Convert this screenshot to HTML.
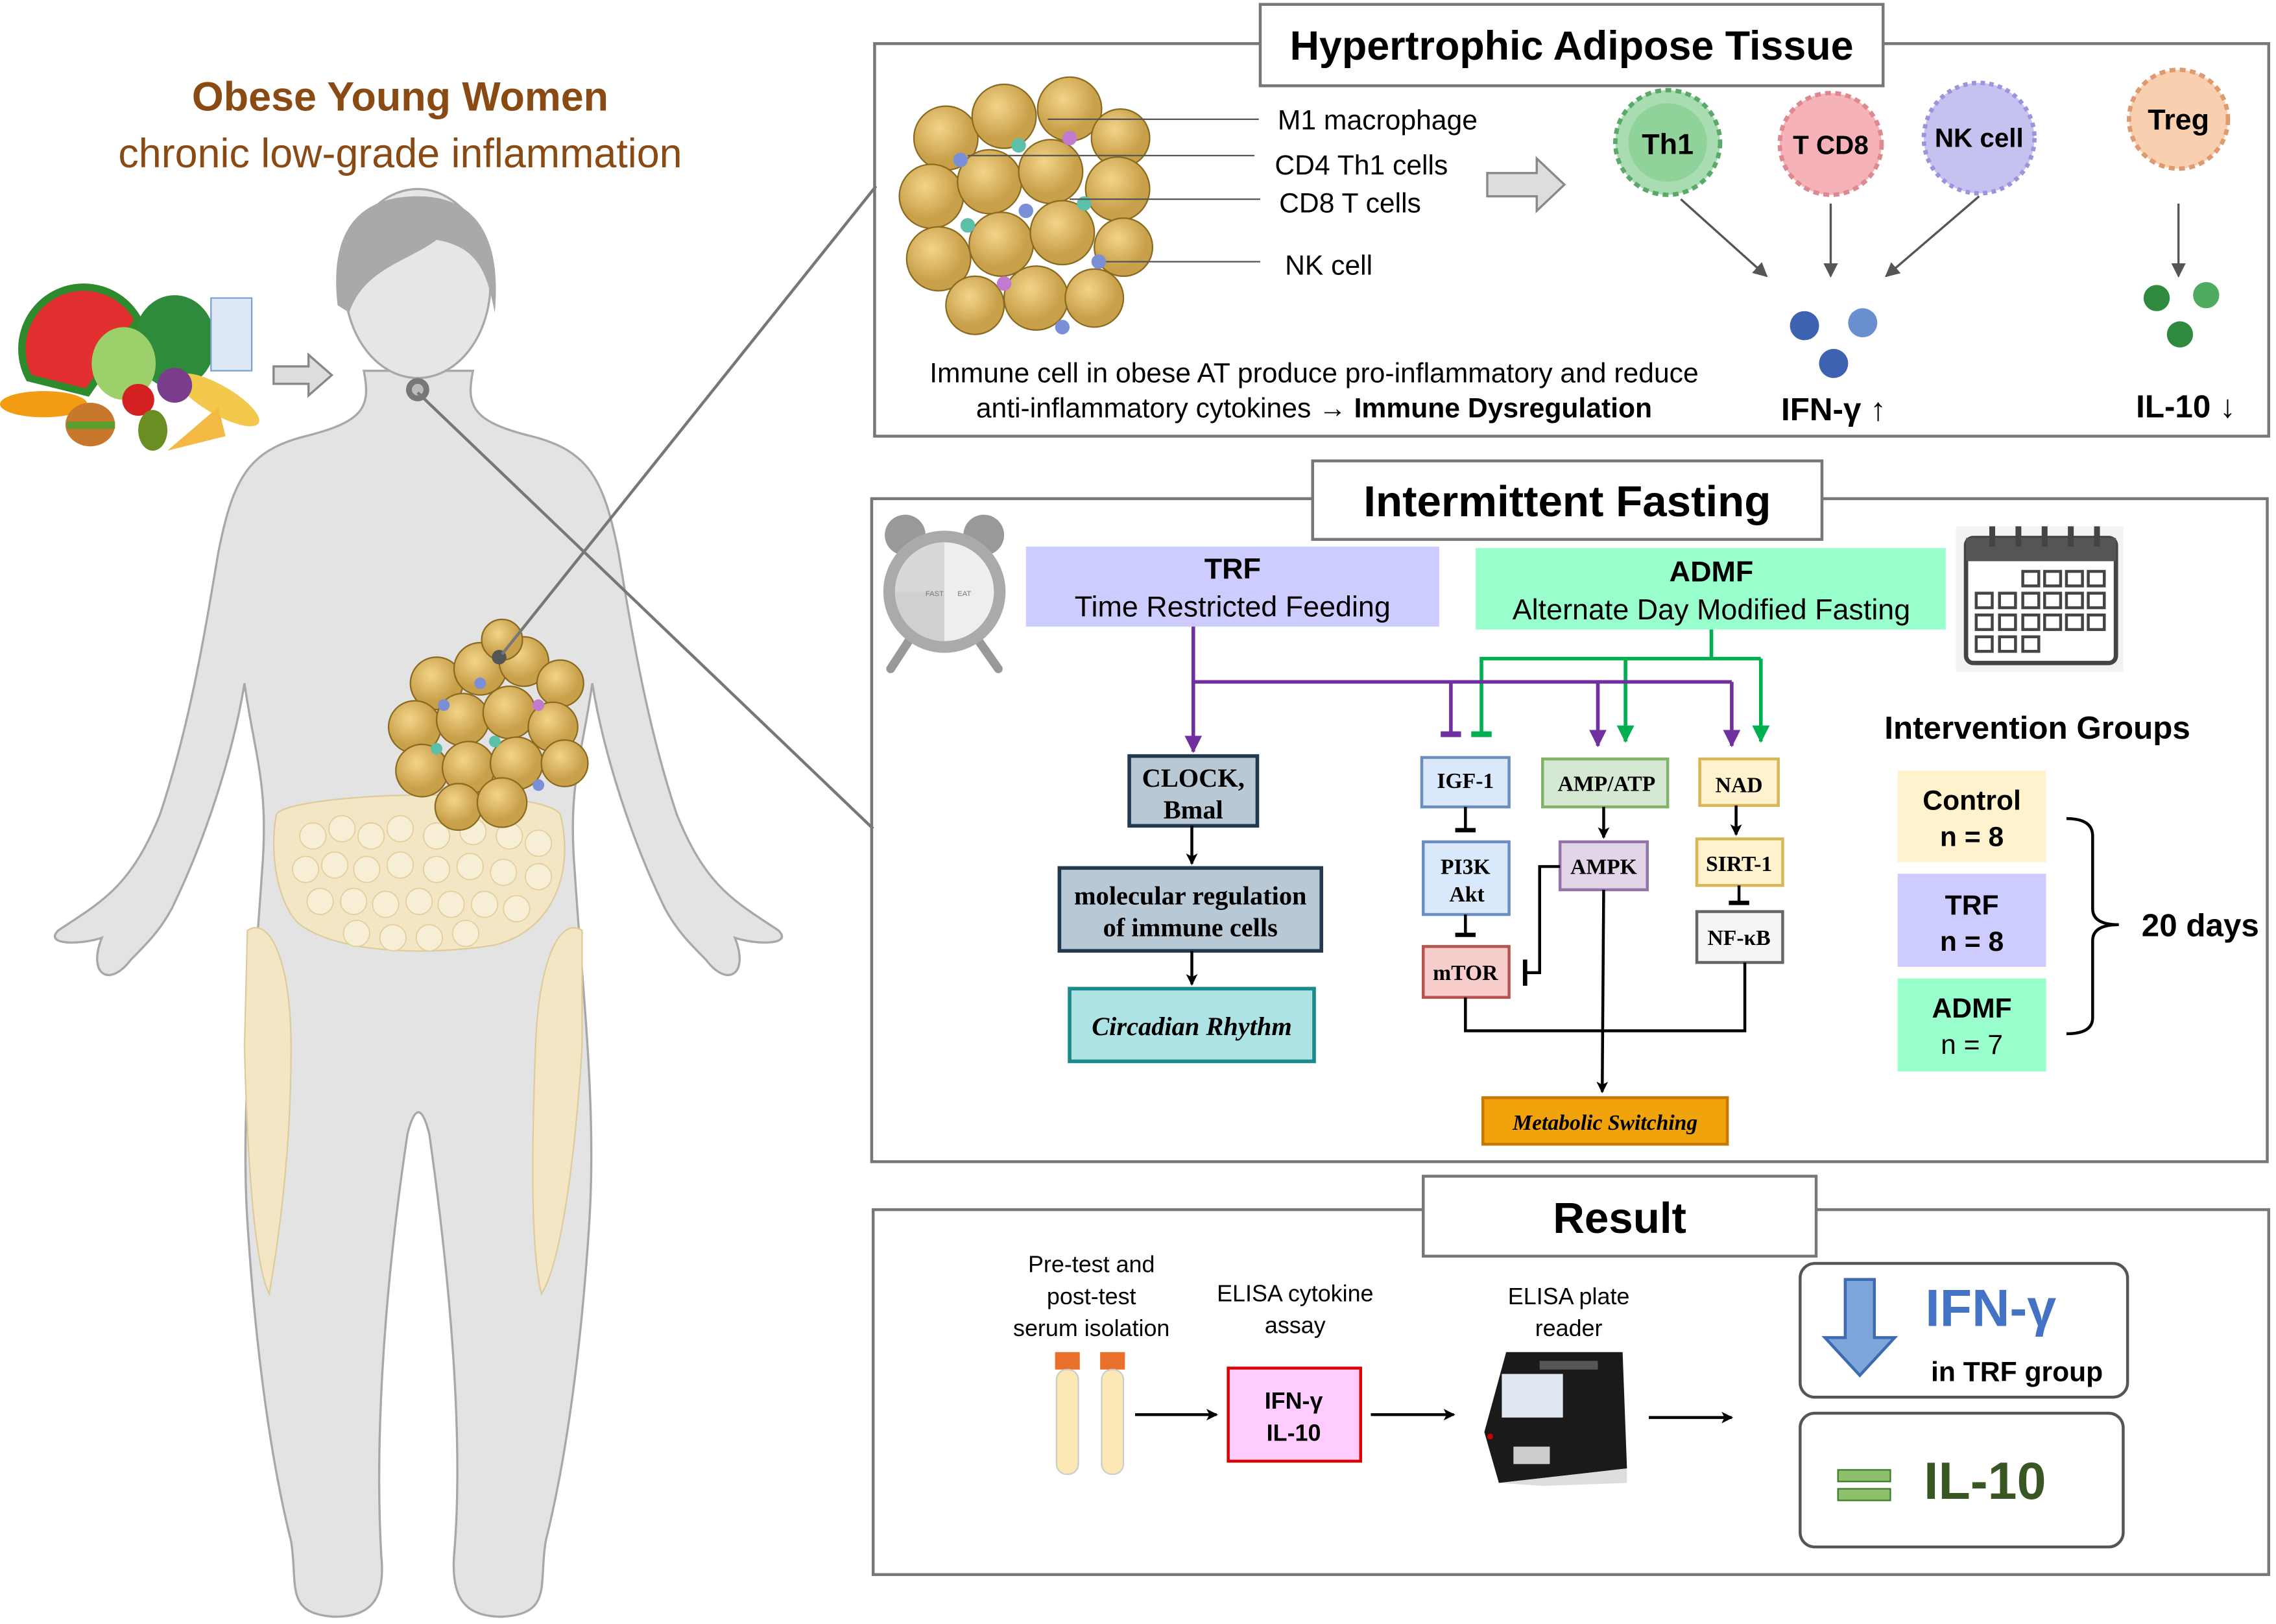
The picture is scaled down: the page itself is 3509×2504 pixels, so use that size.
<!DOCTYPE html>
<html><head><meta charset="utf-8"><style>
html,body{margin:0;padding:0;background:#fff;}
svg{display:block;}
.s{font-family:"Liberation Sans",sans-serif;}
.r{font-family:"Liberation Serif",serif;font-weight:bold;}
</style></head><body>
<svg width="3509" height="2504" viewBox="0 0 1564 1117" preserveAspectRatio="none" xmlns="http://www.w3.org/2000/svg">
<defs>
<marker id="ak" markerWidth="8" markerHeight="8" refX="7" refY="4" orient="auto" markerUnits="userSpaceOnUse"><path d="M0,0 L8,4 L0,8 L2,4z" fill="#000"/></marker>
<marker id="ap" markerWidth="12" markerHeight="12" refX="11" refY="6" orient="auto" markerUnits="userSpaceOnUse"><path d="M0,0 L12,6 L0,12z" fill="#7030a0"/></marker>
<marker id="ag" markerWidth="12" markerHeight="12" refX="11" refY="6" orient="auto" markerUnits="userSpaceOnUse"><path d="M0,0 L12,6 L0,12z" fill="#00b050"/></marker>
<marker id="agr" markerWidth="10" markerHeight="10" refX="9" refY="5" orient="auto" markerUnits="userSpaceOnUse"><path d="M0,0 L10,5 L0,10z" fill="#555"/></marker>
<radialGradient id="fat" cx="40%" cy="35%"><stop offset="0" stop-color="#f2d58a"/><stop offset="1" stop-color="#c9a04a"/></radialGradient>
</defs>
<rect width="1564" height="1117" fill="#fff"/>

<!-- Left title -->
<text x="275" y="76" text-anchor="middle" class="s" font-size="28" font-weight="bold" fill="#8a4a14">Obese Young Women</text>
<text x="275" y="115" text-anchor="middle" class="s" font-size="28" fill="#8a4a14">chronic low-grade inflammation</text>

<!-- Body silhouette -->
<path d="M250,255 C255,280 250,290 210,300 C170,310 160,330 150,380 C140,440 130,500 110,560 C90,610 70,620 40,640 C30,650 55,650 70,645 C60,670 75,680 90,660 C100,650 110,640 118,625 C140,580 160,520 168,470 C175,520 185,540 180,600 C175,680 165,760 170,840 C175,920 185,1000 200,1060 C205,1090 195,1110 230,1112 C255,1112 265,1100 262,1070 C258,1000 262,900 280,780 C285,760 290,760 295,780 C312,900 318,1000 312,1070 C310,1100 320,1112 345,1112 C380,1110 370,1090 375,1060 C390,1000 400,920 405,840 C410,760 400,680 395,600 C390,540 400,520 407,470 C415,520 435,580 457,625 C465,640 475,650 485,660 C500,680 515,670 505,645 C520,650 545,650 535,640 C505,620 485,610 465,560 C445,500 435,440 425,380 C415,330 405,310 365,300 C325,290 320,280 325,255 Z" fill="#e3e3e3" stroke="#a8a8a8" stroke-width="1.5"/>
<ellipse cx="287" cy="195" rx="50" ry="65" fill="#e6e6e6" stroke="#a8a8a8" stroke-width="1.5"/>
<path d="M232,210 C225,150 255,135 287,135 C325,135 345,160 340,215 C335,190 330,170 300,165 C280,180 250,185 240,215 Z" fill="#a9a9a9"/>
<circle cx="287" cy="268" r="8" fill="#777"/><circle cx="287" cy="268" r="4" fill="#bbb"/>
<!-- belly fat -->
<path d="M190,560 C200,545 370,540 385,560 C395,600 380,640 340,650 C290,658 230,655 205,635 C190,620 185,585 190,560Z" fill="#f3e6c4" stroke="#dccb9c"/>
<g fill="#f7eed6" stroke="#e2cf9c" stroke-width="0.8">
<circle cx="215" cy="575" r="9"/><circle cx="235" cy="570" r="9"/><circle cx="255" cy="575" r="9"/><circle cx="275" cy="570" r="9"/><circle cx="300" cy="575" r="9"/><circle cx="325" cy="572" r="9"/><circle cx="350" cy="575" r="9"/><circle cx="370" cy="580" r="9"/>
<circle cx="210" cy="598" r="9"/><circle cx="230" cy="595" r="9"/><circle cx="252" cy="598" r="9"/><circle cx="275" cy="595" r="9"/><circle cx="300" cy="598" r="9"/><circle cx="323" cy="596" r="9"/><circle cx="346" cy="600" r="9"/><circle cx="370" cy="603" r="9"/>
<circle cx="220" cy="620" r="9"/><circle cx="243" cy="620" r="9"/><circle cx="265" cy="622" r="9"/><circle cx="288" cy="620" r="9"/><circle cx="310" cy="622" r="9"/><circle cx="333" cy="622" r="9"/><circle cx="355" cy="625" r="9"/>
<circle cx="245" cy="642" r="9"/><circle cx="270" cy="645" r="9"/><circle cx="295" cy="645" r="9"/><circle cx="320" cy="642" r="9"/>
</g>
<path d="M170,640 C185,630 200,660 200,720 C200,800 190,860 185,890 C175,870 170,800 168,720Z" fill="#f3e6c4" stroke="#dccb9c"/>
<path d="M400,640 C385,630 370,660 368,720 C365,800 365,860 372,890 C385,870 395,800 400,720Z" fill="#f3e6c4" stroke="#dccb9c"/>
<!-- adipose cluster on body -->
<g stroke="#8a6a20" stroke-width="1" fill="url(#fat)">
<circle cx="300" cy="470" r="18"/><circle cx="330" cy="460" r="18"/><circle cx="360" cy="455" r="17"/><circle cx="385" cy="470" r="16"/><circle cx="345" cy="440" r="14"/>
<circle cx="285" cy="500" r="18"/><circle cx="318" cy="495" r="18"/><circle cx="350" cy="490" r="18"/><circle cx="380" cy="500" r="17"/>
<circle cx="290" cy="530" r="18"/><circle cx="322" cy="528" r="18"/><circle cx="355" cy="525" r="18"/><circle cx="388" cy="525" r="16"/>
<circle cx="315" cy="555" r="16"/><circle cx="345" cy="552" r="17"/>
</g>
<g><circle cx="305" cy="485" r="4" fill="#7b8fd6"/><circle cx="340" cy="510" r="4" fill="#5cbfa8"/><circle cx="370" cy="485" r="4" fill="#c07ad0"/><circle cx="330" cy="470" r="4" fill="#7b8fd6"/><circle cx="300" cy="515" r="4" fill="#5cbfa8"/><circle cx="370" cy="540" r="4" fill="#7b8fd6"/></g>
<circle cx="343" cy="452" r="5" fill="#555"/>

<!-- food -->
<path d="M20,260 A40,40 0 0 1 95,220 L60,270Z" fill="#e23030" stroke="#2d8a2d" stroke-width="5"/>
<ellipse cx="120" cy="235" rx="28" ry="32" fill="#2e8b3c"/>
<ellipse cx="85" cy="250" rx="22" ry="25" fill="#9bd06b"/>
<rect x="145" y="205" width="28" height="50" fill="#dfe9f6" stroke="#7aa0d0"/>
<ellipse cx="150" cy="275" rx="32" ry="10" fill="#f2c94c" transform="rotate(30 150 275)"/>
<circle cx="120" cy="265" r="12" fill="#7a3d8c"/>
<circle cx="95" cy="275" r="11" fill="#d42020"/>
<ellipse cx="30" cy="278" rx="30" ry="9" fill="#f39c12"/>
<ellipse cx="62" cy="292" rx="17" ry="15" fill="#c8782c"/><rect x="46" y="290" width="33" height="5" fill="#5a9e2f"/>
<ellipse cx="105" cy="296" rx="10" ry="14" fill="#6b8e23"/>
<path d="M115,310 L150,280 L155,300Z" fill="#f4b942"/>

<!-- arrows left -->
<path d="M188,252 L212,252 L212,244 L228,258 L212,272 L212,264 L188,264Z" fill="#ddd" stroke="#888" stroke-width="1.5"/>
<line x1="345" y1="450" x2="602" y2="128" stroke="#777" stroke-width="2"/>
<line x1="287" y1="270" x2="600" y2="570" stroke="#777" stroke-width="2"/>

<!-- TOP BOX -->
<rect x="601" y="30" width="958" height="270" fill="none" stroke="#777" stroke-width="2"/>
<rect x="866" y="3" width="428" height="56" fill="#fff" stroke="#777" stroke-width="2"/>
<text x="1080" y="41" text-anchor="middle" class="s" font-size="28" font-weight="bold">Hypertrophic Adipose Tissue</text>
<g stroke="#8a6a20" stroke-width="1" fill="url(#fat)">
<circle cx="650" cy="95" r="22"/><circle cx="690" cy="80" r="22"/><circle cx="735" cy="75" r="22"/><circle cx="770" cy="95" r="20"/>
<circle cx="640" cy="135" r="22"/><circle cx="680" cy="125" r="22"/><circle cx="722" cy="118" r="22"/><circle cx="768" cy="130" r="22"/>
<circle cx="645" cy="178" r="22"/><circle cx="688" cy="168" r="22"/><circle cx="730" cy="160" r="22"/><circle cx="772" cy="170" r="20"/>
<circle cx="670" cy="210" r="20"/><circle cx="712" cy="205" r="22"/><circle cx="752" cy="205" r="20"/>
</g>
<g><circle cx="660" cy="110" r="5" fill="#7b8fd6"/><circle cx="700" cy="100" r="5" fill="#5cbfa8"/><circle cx="735" cy="95" r="5" fill="#c07ad0"/><circle cx="705" cy="145" r="5" fill="#7b8fd6"/><circle cx="745" cy="140" r="5" fill="#5cbfa8"/><circle cx="665" cy="155" r="5" fill="#5cbfa8"/><circle cx="755" cy="180" r="5" fill="#7b8fd6"/><circle cx="690" cy="195" r="5" fill="#c07ad0"/><circle cx="730" cy="225" r="5" fill="#7b8fd6"/></g>
<g stroke="#555" stroke-width="1"><line x1="720" y1="82" x2="865" y2="82"/><line x1="665" y1="107" x2="862" y2="107"/><line x1="735" y1="137" x2="866" y2="137"/><line x1="760" y1="180" x2="866" y2="180"/></g>
<g class="s" font-size="19"><text x="878" y="89">M1 macrophage</text><text x="876" y="120">CD4 Th1 cells</text><text x="879" y="146">CD8 T cells</text><text x="883" y="189">NK cell</text></g>
<path d="M1022,119 L1056,119 L1056,109 L1075,127 L1056,145 L1056,135 L1022,135Z" fill="#ddd" stroke="#888" stroke-width="1.5"/>
<circle cx="1146" cy="98" r="36" fill="#a9dcb0" stroke="#5aa86a" stroke-width="3" stroke-dasharray="4 3"/><circle cx="1146" cy="98" r="27" fill="#8fd29a"/>
<text x="1146" y="106" text-anchor="middle" class="s" font-size="20" font-weight="bold">Th1</text>
<circle cx="1258" cy="99" r="35" fill="#f5b3b9" stroke="#e08890" stroke-width="3" stroke-dasharray="4 3"/>
<text x="1258" y="106" text-anchor="middle" class="s" font-size="18" font-weight="bold">T CD8</text>
<circle cx="1360" cy="95" r="38" fill="#c5c2ef" stroke="#9a94dd" stroke-width="3" stroke-dasharray="3 3"/>
<text x="1360" y="101" text-anchor="middle" class="s" font-size="18" font-weight="bold">NK cell</text>
<circle cx="1497" cy="82" r="34" fill="#f8d0b0" stroke="#e09a70" stroke-width="3" stroke-dasharray="4 3"/>
<text x="1497" y="89" text-anchor="middle" class="s" font-size="20" font-weight="bold">Treg</text>
<g stroke="#555" stroke-width="1.5" marker-end="url(#agr)"><line x1="1155" y1="137" x2="1214" y2="190"/><line x1="1258" y1="140" x2="1258" y2="190"/><line x1="1360" y1="135" x2="1296" y2="190"/><line x1="1497" y1="140" x2="1497" y2="190"/></g>
<circle cx="1240" cy="224" r="10" fill="#3d62b0"/><circle cx="1280" cy="222" r="10" fill="#6a8fd0"/><circle cx="1260" cy="250" r="10" fill="#3d62b0"/>
<circle cx="1482" cy="205" r="9" fill="#2e8a3e"/><circle cx="1516" cy="203" r="9" fill="#4eaa5e"/><circle cx="1498" cy="230" r="9" fill="#2e8a3e"/>
<text x="903" y="263" text-anchor="middle" class="s" font-size="19">Immune cell in obese AT produce pro-inflammatory and reduce</text>
<text x="903" y="287" text-anchor="middle" class="s" font-size="19">anti-inflammatory cytokines → <tspan font-weight="bold">Immune Dysregulation</tspan></text>
<text x="1260" y="289" text-anchor="middle" class="s" font-size="22" font-weight="bold">IFN-γ ↑</text>
<text x="1502" y="287" text-anchor="middle" class="s" font-size="22" font-weight="bold">IL-10 ↓</text>

<!-- MIDDLE BOX -->
<rect x="599" y="343" width="959" height="456" fill="none" stroke="#777" stroke-width="2"/>
<rect x="902" y="317" width="350" height="54" fill="#fff" stroke="#777" stroke-width="2"/>
<text x="1077" y="355" text-anchor="middle" class="s" font-size="30" font-weight="bold">Intermittent Fasting</text>
<!-- clock -->
<circle cx="622" cy="368" r="14" fill="#999"/><circle cx="676" cy="368" r="14" fill="#999"/>
<line x1="625" y1="440" x2="612" y2="460" stroke="#999" stroke-width="6" stroke-linecap="round"/><line x1="672" y1="440" x2="686" y2="460" stroke="#999" stroke-width="6" stroke-linecap="round"/>
<circle cx="649" cy="407" r="42" fill="#aaa"/><circle cx="649" cy="407" r="34" fill="#eee"/><path d="M649,407 L649,373 A34,34 0 0 0 615,407Z" fill="#d8d8d8"/><path d="M649,407 L615,407 A34,34 0 0 0 649,441Z" fill="#d0d0d0"/>
<text x="636" y="410" font-size="5" fill="#777" class="s">FAST</text><text x="658" y="410" font-size="5" fill="#777" class="s">EAT</text>
<!-- calendar -->
<rect x="1344" y="362" width="115" height="100" fill="#f3f3f3"/>
<rect x="1351" y="370" width="103" height="86" rx="5" fill="#fff" stroke="#444" stroke-width="3"/>
<rect x="1351" y="370" width="103" height="16" fill="#555"/>
<g fill="#444"><rect x="1367" y="362" width="4" height="14"/><rect x="1385" y="362" width="4" height="14"/><rect x="1403" y="362" width="4" height="14"/><rect x="1421" y="362" width="4" height="14"/><rect x="1439" y="362" width="4" height="14"/></g>
<g fill="none" stroke="#444" stroke-width="2">
<rect x="1390" y="393" width="11" height="10"/><rect x="1405" y="393" width="11" height="10"/><rect x="1420" y="393" width="11" height="10"/><rect x="1435" y="393" width="11" height="10"/>
<rect x="1358" y="408" width="11" height="10"/><rect x="1374" y="408" width="11" height="10"/><rect x="1390" y="408" width="11" height="10"/><rect x="1405" y="408" width="11" height="10"/><rect x="1420" y="408" width="11" height="10"/><rect x="1435" y="408" width="11" height="10"/>
<rect x="1358" y="423" width="11" height="10"/><rect x="1374" y="423" width="11" height="10"/><rect x="1390" y="423" width="11" height="10"/><rect x="1405" y="423" width="11" height="10"/><rect x="1420" y="423" width="11" height="10"/><rect x="1435" y="423" width="11" height="10"/>
<rect x="1358" y="438" width="11" height="10"/><rect x="1374" y="438" width="11" height="10"/><rect x="1390" y="438" width="11" height="10"/></g>
<rect x="705" y="376" width="284" height="55" fill="#ccccff"/>
<text x="847" y="398" text-anchor="middle" class="s" font-size="20" font-weight="bold">TRF</text>
<text x="847" y="424" text-anchor="middle" class="s" font-size="20">Time Restricted Feeding</text>
<rect x="1014" y="377" width="323" height="56" fill="#99ffcc"/>
<text x="1176" y="400" text-anchor="middle" class="s" font-size="20" font-weight="bold">ADMF</text>
<text x="1176" y="426" text-anchor="middle" class="s" font-size="20">Alternate Day Modified Fasting</text>
<!-- connectors -->
<g fill="none" stroke="#00b050" stroke-width="2.5">
<polyline points="1176,433 1176,453"/><polyline points="1018,505 1018,453 1210,453"/>
<line x1="1117" y1="453" x2="1117" y2="510" marker-end="url(#ag)"/><line x1="1210" y1="453" x2="1210" y2="510" marker-end="url(#ag)"/>
<line x1="1011" y1="505" x2="1025" y2="505" stroke-width="4"/></g>
<g fill="none" stroke="#7030a0" stroke-width="2.5">
<polyline points="820,431 820,469 1190,469"/>
<line x1="820" y1="469" x2="820" y2="517" marker-end="url(#ap)"/>
<line x1="997" y1="469" x2="997" y2="505"/><line x1="990" y1="505" x2="1004" y2="505" stroke-width="4"/>
<line x1="1098" y1="469" x2="1098" y2="513" marker-end="url(#ap)"/><line x1="1190" y1="469" x2="1190" y2="513" marker-end="url(#ap)"/></g>
<!-- boxes -->
<rect x="776" y="520" width="88" height="48" fill="#b8c8d4" stroke="#223a50" stroke-width="2.5"/>
<text x="820" y="541" text-anchor="middle" class="r" font-size="18">CLOCK,</text><text x="820" y="563" text-anchor="middle" class="r" font-size="18">Bmal</text>
<rect x="728" y="597" width="180" height="57" fill="#b8c8d4" stroke="#223a50" stroke-width="2.5"/>
<text x="818" y="622" text-anchor="middle" class="r" font-size="18">molecular regulation</text><text x="818" y="644" text-anchor="middle" class="r" font-size="18">of immune cells</text>
<rect x="735" y="680" width="168" height="50" fill="#ade3e5" stroke="#1a8a8a" stroke-width="2.5"/>
<text x="819" y="712" text-anchor="middle" class="r" font-size="18" font-style="italic">Circadian Rhythm</text>
<rect x="977" y="521" width="60" height="34" fill="#dae8fc" stroke="#6c8ebf" stroke-width="2"/>
<text x="1007" y="542" text-anchor="middle" class="r" font-size="15">IGF-1</text>
<rect x="978" y="579" width="59" height="50" fill="#dae8fc" stroke="#6c8ebf" stroke-width="2"/>
<text x="1007" y="601" text-anchor="middle" class="r" font-size="15">PI3K</text><text x="1008" y="620" text-anchor="middle" class="r" font-size="15">Akt</text>
<rect x="978" y="651" width="59" height="35" fill="#f8cecc" stroke="#b85450" stroke-width="2"/>
<text x="1007" y="674" text-anchor="middle" class="r" font-size="15">mTOR</text>
<rect x="1060" y="522" width="86" height="33" fill="#d5e8d4" stroke="#82b366" stroke-width="2"/>
<text x="1104" y="544" text-anchor="middle" class="r" font-size="15">AMP/ATP</text>
<rect x="1072" y="579" width="60" height="33" fill="#e1d5e7" stroke="#9673a6" stroke-width="2"/>
<text x="1102" y="601" text-anchor="middle" class="r" font-size="15">AMPK</text>
<rect x="1168" y="522" width="54" height="32" fill="#fff2cc" stroke="#d6b656" stroke-width="2"/>
<text x="1195" y="545" text-anchor="middle" class="r" font-size="15">NAD</text>
<rect x="1166" y="577" width="59" height="32" fill="#fff2cc" stroke="#d6b656" stroke-width="2"/>
<text x="1195" y="599" text-anchor="middle" class="r" font-size="15">SIRT-1</text>
<rect x="1166" y="627" width="59" height="35" fill="#f5f5f5" stroke="#666" stroke-width="2"/>
<text x="1195" y="650" text-anchor="middle" class="r" font-size="15">NF-κB</text>
<rect x="1019" y="755" width="168" height="32" fill="#f0a30a" stroke="#c77800" stroke-width="2"/>
<text x="1103" y="777" text-anchor="middle" class="r" font-size="15" font-style="italic">Metabolic Switching</text>
<g fill="none" stroke="#000" stroke-width="2">
<line x1="819" y1="568" x2="819" y2="594" marker-end="url(#ak)"/>
<line x1="819" y1="654" x2="819" y2="677" marker-end="url(#ak)"/>
<line x1="1007" y1="555" x2="1007" y2="571"/><line x1="1000" y1="571" x2="1014" y2="571" stroke-width="3"/>
<line x1="1007" y1="629" x2="1007" y2="643"/><line x1="1000" y1="643" x2="1014" y2="643" stroke-width="3"/>
<line x1="1102" y1="555" x2="1102" y2="576" marker-end="url(#ak)"/>
<line x1="1193" y1="554" x2="1193" y2="574" marker-end="url(#ak)"/>
<line x1="1195" y1="609" x2="1195" y2="621"/><line x1="1188" y1="621" x2="1202" y2="621" stroke-width="3"/>
<polyline points="1072,596 1058,596 1058,669 1048,669"/><line x1="1048" y1="660" x2="1048" y2="678" stroke-width="3"/>
<polyline points="1007,686 1007,709 1199,709 1199,662"/>
<line x1="1102" y1="612" x2="1101" y2="751" marker-end="url(#ak)"/>
</g>
<text x="1400" y="508" text-anchor="middle" class="s" font-size="22" font-weight="bold">Intervention Groups</text>
<rect x="1304" y="530" width="102" height="63" fill="#fff2cc"/>
<text x="1355" y="557" text-anchor="middle" class="s" font-size="19" font-weight="bold">Control</text><text x="1355" y="582" text-anchor="middle" class="s" font-size="19" font-weight="bold">n = 8</text>
<rect x="1304" y="601" width="102" height="64" fill="#ccccff"/>
<text x="1355" y="629" text-anchor="middle" class="s" font-size="19" font-weight="bold">TRF</text><text x="1355" y="654" text-anchor="middle" class="s" font-size="19" font-weight="bold">n = 8</text>
<rect x="1304" y="673" width="102" height="64" fill="#99ffcc"/>
<text x="1355" y="700" text-anchor="middle" class="s" font-size="19" font-weight="bold">ADMF</text><text x="1355" y="725" text-anchor="middle" class="s" font-size="19">n = 7</text>
<path d="M1420,563 Q1438,563 1438,575 L1438,625 Q1438,636 1456,636 Q1438,636 1438,647 L1438,700 Q1438,711 1420,711" fill="none" stroke="#000" stroke-width="2"/>
<text x="1512" y="644" text-anchor="middle" class="s" font-size="22" font-weight="bold">20 days</text>

<!-- BOTTOM BOX -->
<rect x="600" y="832" width="959" height="251" fill="none" stroke="#777" stroke-width="2"/>
<rect x="978" y="809" width="270" height="55" fill="#fff" stroke="#777" stroke-width="2"/>
<text x="1113" y="848" text-anchor="middle" class="s" font-size="30" font-weight="bold">Result</text>
<g class="s" font-size="16" text-anchor="middle">
<text x="750" y="875">Pre-test and</text><text x="750" y="897">post-test</text><text x="750" y="919">serum isolation</text>
<text x="890" y="895">ELISA cytokine</text><text x="890" y="917">assay</text>
<text x="1078" y="897">ELISA plate</text><text x="1078" y="919">reader</text></g>
<g><rect x="725" y="930" width="17" height="12" fill="#e8702a"/><rect x="726" y="942" width="15" height="72" rx="7" fill="#fbe8b4" stroke="#ccc"/>
<rect x="756" y="930" width="17" height="12" fill="#e8702a"/><rect x="757" y="942" width="15" height="72" rx="7" fill="#fbe8b4" stroke="#ccc"/></g>
<g stroke="#000" stroke-width="2"><line x1="780" y1="973" x2="836" y2="973" marker-end="url(#ak)"/><line x1="942" y1="973" x2="999" y2="973" marker-end="url(#ak)"/><line x1="1133" y1="975" x2="1190" y2="975" marker-end="url(#ak)"/></g>
<rect x="844" y="941" width="91" height="64" fill="#ffccff" stroke="#dd0000" stroke-width="2"/>
<text x="889" y="969" text-anchor="middle" class="s" font-size="16" font-weight="bold">IFN-γ</text><text x="889" y="991" text-anchor="middle" class="s" font-size="16" font-weight="bold">IL-10</text>
<!-- plate reader -->
<path d="M1035,930 L1115,930 L1118,1010 L1030,1020 L1020,985 Z" fill="#1a1a1a"/>
<rect x="1032" y="945" width="42" height="30" fill="#dfe8f0"/>
<rect x="1058" y="936" width="40" height="6" fill="#555"/>
<path d="M1030,1020 L1118,1010 L1118,1020 L1060,1022Z" fill="#ddd"/>
<rect x="1040" y="995" width="25" height="12" fill="#ccc"/>
<circle cx="1024" cy="988" r="2" fill="#c00"/>
<!-- result boxes -->
<rect x="1237" y="869" width="225" height="92" rx="10" fill="#fff" stroke="#555" stroke-width="2"/>
<path d="M1268,880 L1288,880 L1288,920 L1302,920 L1278,946 L1254,920 L1268,920Z" fill="#7ea6dc" stroke="#3e6ab0" stroke-width="2"/>
<text x="1368" y="912" text-anchor="middle" class="s" font-size="36" font-weight="bold" fill="#4472c4">IFN-γ</text>
<text x="1386" y="950" text-anchor="middle" class="s" font-size="19" font-weight="bold">in TRF group</text>
<rect x="1237" y="972" width="222" height="92" rx="10" fill="#fff" stroke="#555" stroke-width="2"/>
<rect x="1263" y="1011" width="36" height="8" fill="#8ec06c" stroke="#3a7a2a"/><rect x="1263" y="1024" width="36" height="8" fill="#8ec06c" stroke="#3a7a2a"/>
<text x="1364" y="1031" text-anchor="middle" class="s" font-size="36" font-weight="bold" fill="#385723">IL-10</text>
</svg>
</body></html>
